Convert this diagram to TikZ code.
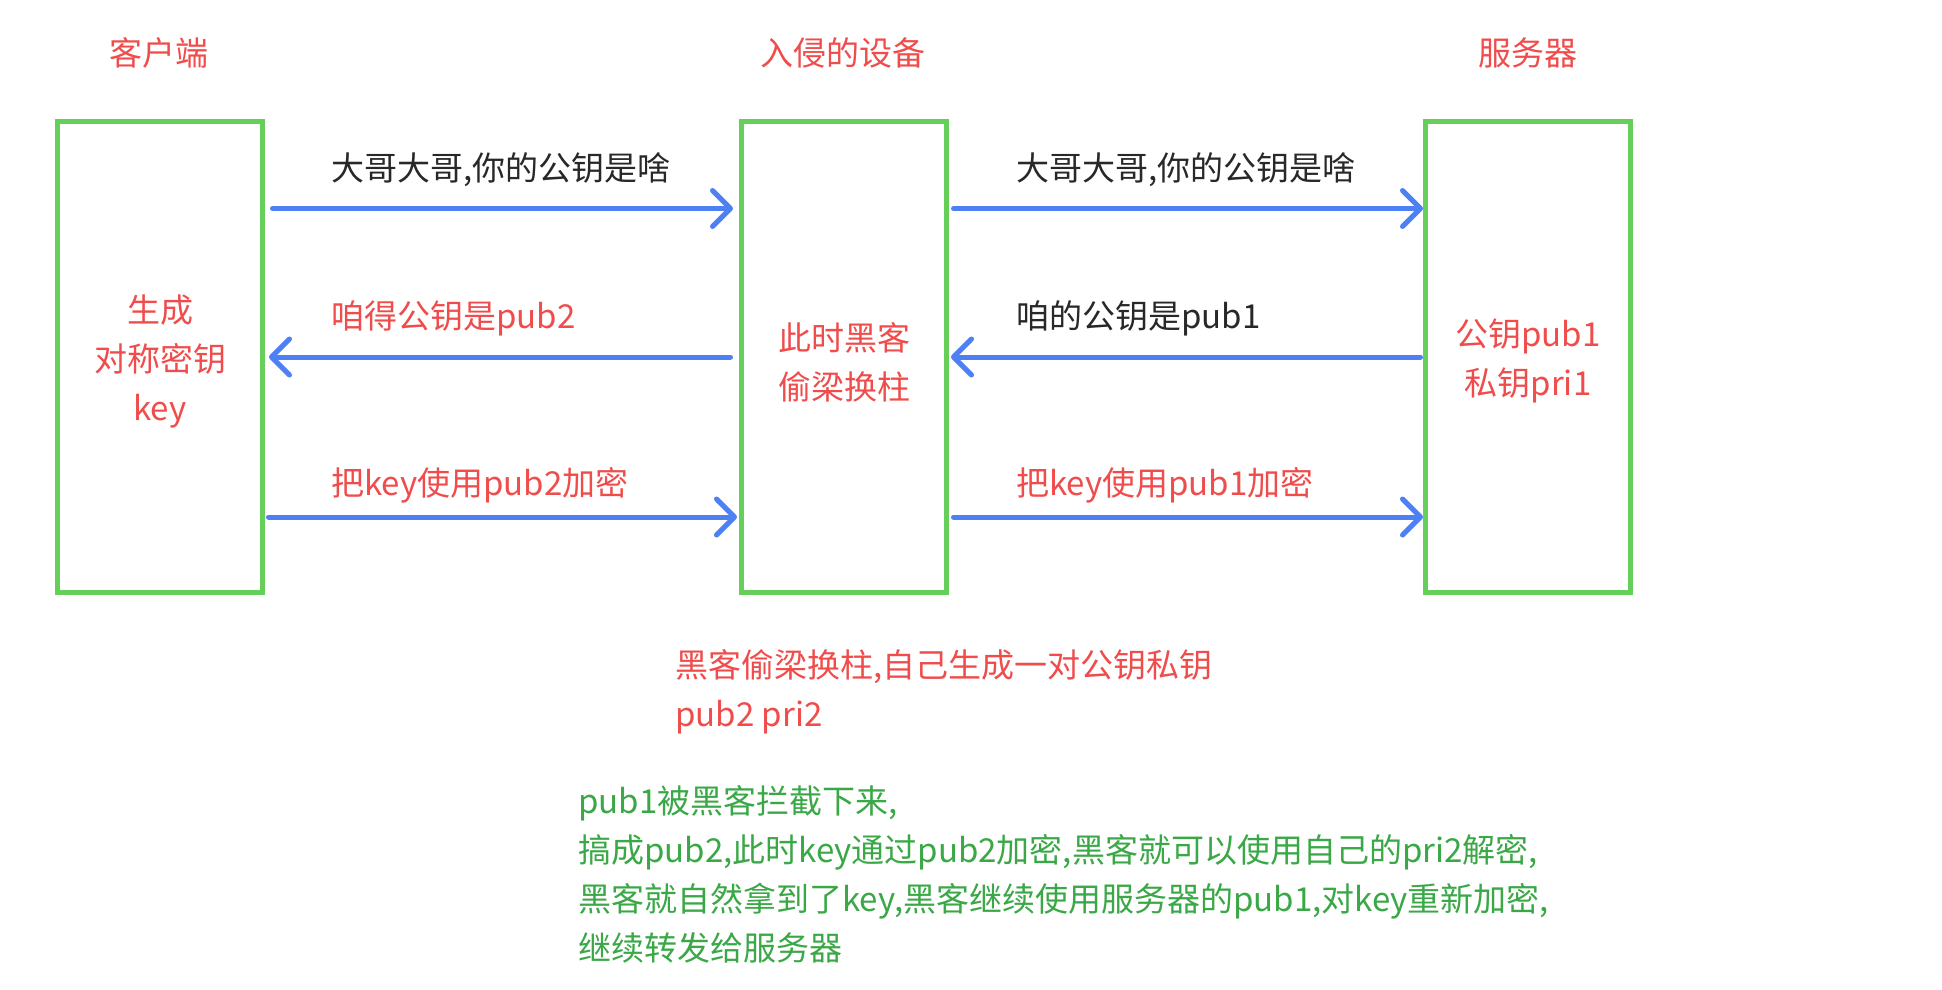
\documentclass[tikz,border=0pt]{standalone}
\usepackage{fontspec}
\setmainfont{Noto Sans CJK SC}
\usetikzlibrary{arrows.meta}
\definecolor{tred}{RGB}{240,76,76}
\definecolor{boxgreen}{RGB}{102,207,90}
\definecolor{arrblue}{RGB}{77,128,245}
\definecolor{tgreen}{RGB}{58,168,70}
\definecolor{tblack}{RGB}{40,40,40}
\tikzset{
  party/.style={draw=boxgreen, line width=5pt, minimum width=205pt, minimum height=470.5pt,
    inner sep=0pt},
  partytext/.style={align=center, text=tred, inner sep=0pt, font=\fontsize{33pt}{49pt}\selectfont},
  title/.style={text=tred, font=\fontsize{33pt}{40pt}\selectfont, inner sep=0pt},
  msg/.style={anchor=west, inner sep=0pt, font=\fontsize{33pt}{40pt}\selectfont},
  note/.style={anchor=north west, inner sep=0pt, align=left, font=\fontsize{33pt}{49pt}\selectfont},
  flow/.style={draw=arrblue, line width=5pt, line cap=round,
    -{Straight Barb[length=18pt, width=36pt, line width=5pt, round]}}
}
\begin{document}
\begin{tikzpicture}[x=1pt, y=-1pt]
\useasboundingbox (0,0) rectangle (1942,989);
\fill[white] (0,0) rectangle (1942,989);
% titles
\node[title] (tclient) at (159,53) {客户端};
\node[title] (tmid) at (843,53) {入侵的设备};
\node[title] (tserver) at (1528,53) {服务器};
% boxes
\node[party] (client) at (160,356.75) {};
\node[party] (mid) at (844,356.75) {};
\node[party] (server) at (1528,356.75) {};
\node[partytext] (clienttext) at ([yshift=-5pt]client.center) {生成\\对称密钥\\key};
\node[partytext] (midtext) at ([yshift=-6pt]mid.center) {此时黑客\\偷梁换柱};
\node[partytext] (servertext) at ([yshift=-4.5pt]server.center) {公钥pub1\\私钥pri1};
% arrows
\draw[flow] ([xshift=7.5pt,yshift=-89.5pt]client.north east) -- ([xshift=-6pt,yshift=-89.5pt]mid.north west);
\draw[flow] ([xshift=4.5pt,yshift=-89.5pt]mid.north east) -- ([yshift=-89.5pt]server.north west);
\draw[flow] ([xshift=-8.5pt,yshift=-238pt]mid.north west) -- ([xshift=4pt,yshift=-238pt]client.north east);
\draw[flow] ([xshift=-2.5pt,yshift=-238pt]server.north west) -- ([xshift=2pt,yshift=-238pt]mid.north east);
\draw[flow] ([xshift=3.5pt,yshift=-398pt]client.north east) -- ([xshift=-2pt,yshift=-398pt]mid.north west);
\draw[flow] ([xshift=4.5pt,yshift=-398pt]mid.north east) -- ([yshift=-398pt]server.north west);
% labels
\node[msg, text=tblack] (l1) at (331,169.5) {大哥大哥,你的公钥是啥};
\node[msg, text=tblack] (r1) at (1016,169.5) {大哥大哥,你的公钥是啥};
\node[msg, text=tred] (l2) at (331,318.5) {咱得公钥是pub2};
\node[msg, text=tblack] (r2) at (1016,318.5) {咱的公钥是pub1};
\node[msg, text=tred] (l3) at (331,485.5) {把key使用pub2加密};
\node[msg, text=tred] (r3) at (1016,485.5) {把key使用pub1加密};
% notes
\node[note, text=tred] (n1) at (675,649) {黑客偷梁换柱,自己生成一对公钥私钥\\pub2 pri2};
\node[note, text=tgreen] (n2) at (578,785.5) {pub1被黑客拦截下来,\\搞成pub2,此时key通过pub2加密,黑客就可以使用自己的pri2解密,\\黑客就自然拿到了key,黑客继续使用服务器的pub1,对key重新加密,\\继续转发给服务器};
\end{tikzpicture}
\end{document}
